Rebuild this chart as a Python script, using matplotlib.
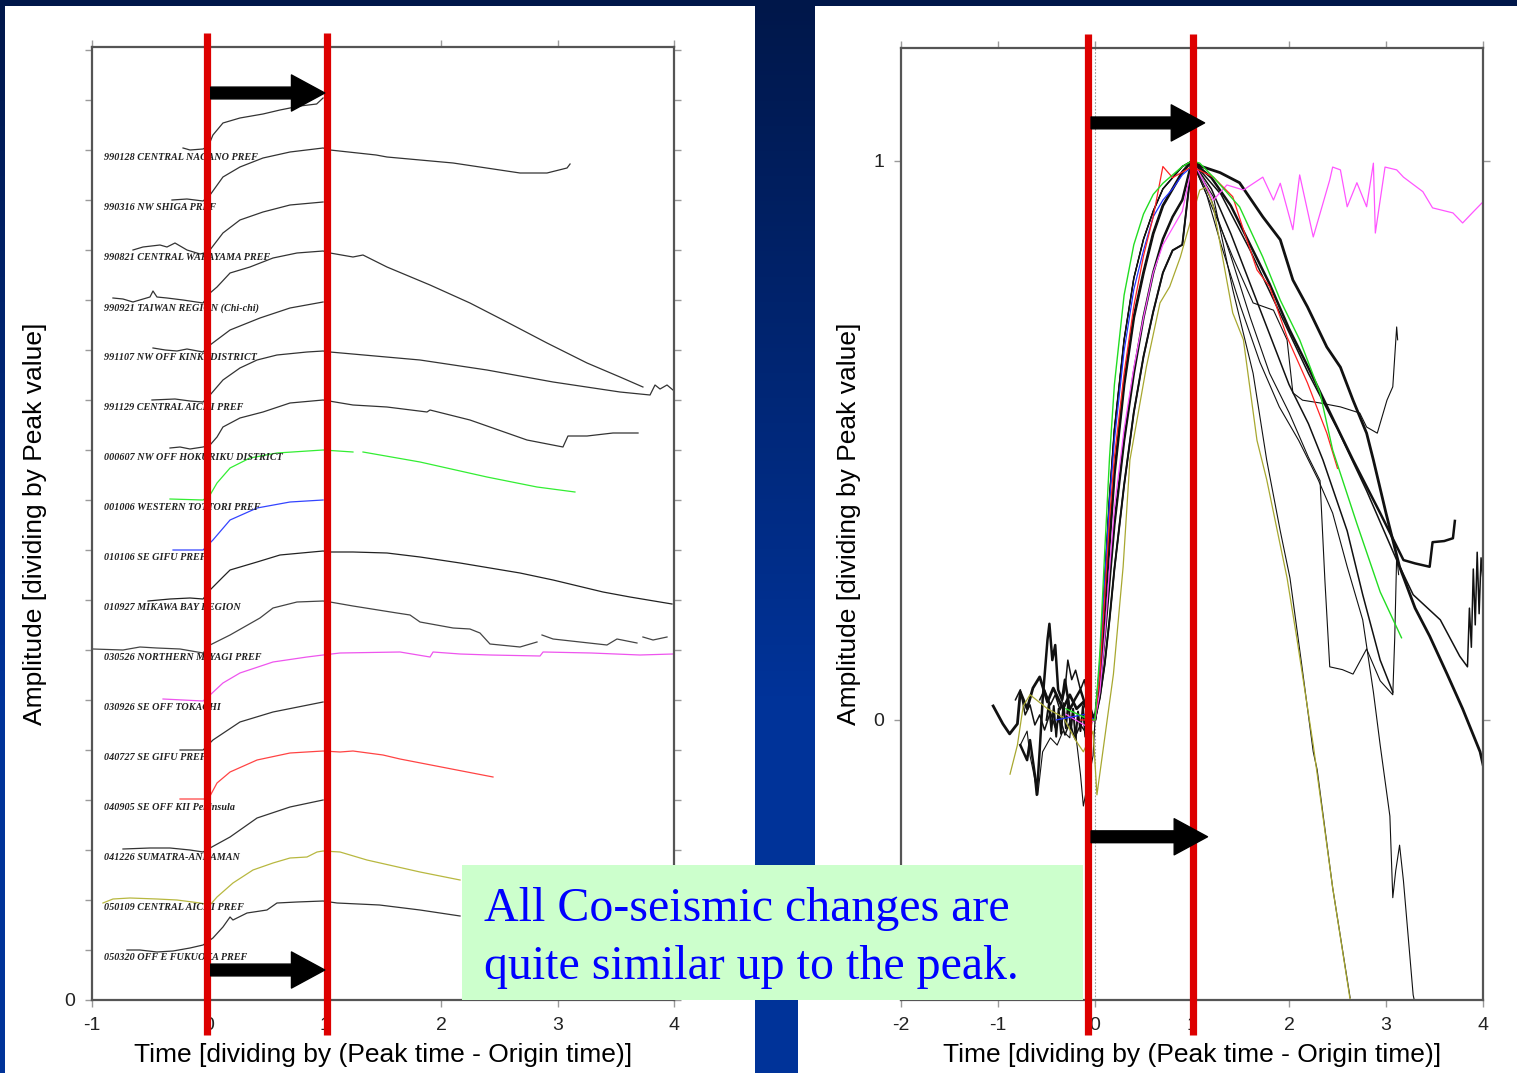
import numpy as np
import matplotlib
matplotlib.use("Agg")
import matplotlib.pyplot as plt
from matplotlib.colors import LinearSegmentedColormap
from matplotlib.patches import Rectangle

plt.rcParams['font.family'] = 'Liberation Sans'
plt.rcParams['axes.unicode_minus'] = False
nan = float('nan')

# ---------------- left panel: stacked records (t / (Tpeak-T0), amplitude / peak)
EVENTS = ["990128 CENTRAL NAGANO PREF", "990316 NW SHIGA PREF", "990821 CENTRAL WAKAYAMA PREF",
          "990921 TAIWAN REGION (Chi-chi)", "991107 NW OFF KINKI DISTRICT", "991129 CENTRAL AICHI PREF",
          "000607 NW OFF HOKURIKU DISTRICT", "001006 WESTERN TOTTORI PREF", "010106 SE GIFU PREF",
          "010927 MIKAWA BAY REGION", "030526 NORTHERN MIYAGI PREF", "030926 SE OFF TOKACHI",
          "040727 SE GIFU PREF", "040905 SE OFF KII Peninsula", "041226 SUMATRA-ANDAMAN",
          "050109 CENTRAL AICHI PREF", "050320 OFF E FUKUOKA PREF"]

L00 = [(-0.218,0.04),(-0.158,0.0),(-0.046,0.02),(0.0,0.08),(0.039,0.3),(0.125,0.54),(0.271,0.64),(0.469,0.72),
       (0.615,0.8),(0.787,0.88),(0.93,0.92),(0.985,1.04)]
L01 = [(-0.313,0.0),(-0.184,0.02),(-0.046,-0.02),(0.014,0.1),(0.125,0.46),(0.271,0.66),(0.469,0.84),(0.701,0.96),
       (0.985,1.04),(1.045,1.0),(1.441,0.9),(1.534,0.86),(2.102,0.74),(2.677,0.54),(2.909,0.54),(3.081,0.64),(3.107,0.72)]
L02 = [(-0.648,0.0),(-0.562,0.06),(-0.416,0.1),(-0.356,0.06),(-0.287,0.14),(-0.184,0.0),(-0.072,-0.08),(0.0,-0.04),
       (0.125,0.34),(0.271,0.6),(0.469,0.76),(0.701,0.9),(0.985,0.96)]
L03 = [(-0.82,0.04),(-0.734,0.02),(-0.648,-0.04),(-0.502,0.06),(-0.476,0.18),(-0.442,0.06),(-0.356,0.04),(-0.218,0.0),
       (-0.046,-0.06),(0.014,0.14),(0.074,0.26),(0.186,0.54),(0.357,0.66),(0.555,0.84),(0.761,0.94),(0.985,0.98),
       (1.045,0.94),(1.242,0.86),(1.328,0.9),(1.534,0.66),(1.904,0.3),(2.247,-0.06),(2.531,-0.4),(2.909,-0.86),
       (3.253,-1.26),(3.536,-1.54),(3.733,-1.74)]
L04 = [(-0.476,0.04),(-0.37,0.0),(-0.27,-0.02),(-0.184,0.02),(-0.046,-0.04),(0.014,0.1),(0.186,0.4),(0.443,0.64),
       (0.701,0.84),(0.985,0.96)]
L05 = [(-0.485,0.0),(-0.287,0.02),(-0.158,-0.02),(-0.046,-0.04),(0.014,0.1),(0.125,0.4),(0.271,0.64),(0.418,0.8),
       (0.589,0.9),(0.847,0.96),(0.985,0.98),(1.045,0.96),(1.818,0.8),(2.393,0.6),(2.961,0.36),(3.536,0.16),
       (3.794,0.1),(3.837,0.3),(3.88,0.22),(3.94,0.3),(3.991,0.2)]
L06 = [(-0.33,0.04),(-0.244,0.06),(-0.158,0.02),(-0.046,0.06),(0.014,0.1),(0.074,0.26),(0.125,0.46),(0.271,0.64),
       (0.469,0.76),(0.701,0.94),(0.985,1.0),(1.242,0.9),(1.534,0.86),(1.878,0.76),(1.904,0.8),(2.247,0.6),
       (2.737,0.2),(3.046,0.06),(3.089,0.28),(3.253,0.28),(3.476,0.34),(3.691,0.34)]
L07 = [(-0.33,0.02),(-0.046,0.0),(0.014,0.1),(0.074,0.34),(0.186,0.64),(0.357,0.84),(0.589,0.94),(0.985,1.0),
       (1.242,0.96),(nan,nan),(1.328,0.96),(1.818,0.76),(2.393,0.46),(2.823,0.26),(3.149,0.16)]
L08 = [(-0.304,0.0),(-0.046,0.0),(0.039,0.2),(0.186,0.6),(0.418,0.84),(0.701,0.96),(0.985,1.0)]
L09 = [(-0.519,-0.02),(-0.33,0.02),(-0.158,0.04),(-0.046,0.02),(0.014,0.2),(0.125,0.46),(0.186,0.6),(0.418,0.76),
       (0.615,0.9),(0.985,0.98),(1.045,0.96),(1.242,0.96),(1.534,0.94),(1.818,0.86),(2.162,0.74),(2.677,0.54),
       (2.961,0.4),(3.39,0.16),(3.622,0.06),(3.983,-0.08)]
L10 = [(-0.991,0.02),(-0.734,0.0),(-0.588,0.06),(-0.442,0.04),(-0.244,0.02),(-0.046,-0.06),(0.014,0.1),(0.186,0.3),
       (0.443,0.64),(0.555,0.84),(0.761,0.96),(0.985,0.98),(1.045,0.96),(1.242,0.88),(1.62,0.74),(1.732,0.7),
       (1.818,0.56),(2.102,0.44),(2.247,0.42),(2.333,0.34),(2.419,0.12),(2.677,0.06),(2.823,0.16),(nan,nan),
       (2.866,0.3),(2.961,0.22),(3.424,0.1),(3.51,0.22),(3.682,0.14),(nan,nan),(3.733,0.26),(3.82,0.2),(3.94,0.26)]
L11 = [(-0.39,0.02),(-0.046,-0.02),(0.014,0.1),(0.125,0.34),(0.271,0.54),(0.555,0.76),(0.847,0.86),(0.985,0.9),
       (1.131,0.94),(1.646,0.96),(1.904,0.86),(1.93,0.96),(2.162,0.92),(2.419,0.9),(2.849,0.88),(2.875,0.96),
       (3.29,0.94),(3.707,0.9),(3.991,0.92)]
L12 = [(-0.244,0.0),(-0.046,0.0),(0.039,0.2),(0.271,0.56),(0.555,0.76),(0.985,0.96)]
L13 = [(-0.244,0.02),(0.0,0.02),(0.074,0.34),(0.186,0.56),(0.418,0.8),(0.701,0.94),(0.985,0.98),(1.131,0.96),
       (1.242,0.98),(1.5,0.9),(1.646,0.82),(2.445,0.46)]
L14 = [(-0.734,0.02),(-0.502,0.04),(-0.33,0.04),(-0.158,0.0),(-0.046,-0.04),(0.014,0.04),(0.186,0.26),(0.418,0.64),
       (0.701,0.86),(0.985,1.0)]
L15 = [(-0.906,-0.06),(-0.82,0.02),(-0.674,0.04),(-0.442,0.02),(-0.27,0.0),(-0.072,-0.06),(0.014,-0.1),(0.074,0.06),
       (0.211,0.34),(0.383,0.6),(0.555,0.74),(0.701,0.84),(0.847,0.86),(0.933,0.96),(0.985,0.98),(1.131,0.96),
       (1.362,0.8),(1.818,0.56),(2.162,0.4)]
L16 = [(-0.7,0.0),(-0.588,0.0),(-0.442,-0.04),(-0.304,-0.02),(-0.158,0.04),(-0.046,0.1),(0.039,0.24),(0.125,0.46),
       (0.186,0.66),(0.211,0.6),(0.332,0.74),(0.503,0.8),(0.589,0.94),(0.761,0.96),(0.985,0.98),(1.105,0.94),
       (1.47,0.9),(1.818,0.8),(2.162,0.68)]
LEFT = [L00, L01, L02, L03, L04, L05, L06, L07, L08, L09, L10, L11, L12, L13, L14, L15, L16]
LEFT_COL = ['#333333']*7 + ['#33ee33', '#3344ff', '#222222', '#444444', '#ee55ee', '#333333',
                            '#ff4444', '#333333', '#b8b840', '#333333']

# ---------------- right panel: all records overlaid
RISE_T = [0, 0.05, 0.1, 0.15, 0.2, 0.3, 0.4, 0.5, 0.6, 0.7, 0.8, 0.9, 1.0]
RISE_A = [0, 0.1, 0.25, 0.4, 0.52, 0.68, 0.79, 0.86, 0.91, 0.95, 0.97, 0.99, 1.0]
RISE_B = [0, 0.08, 0.2, 0.32, 0.44, 0.6, 0.72, 0.8, 0.87, 0.92, 0.95, 0.98, 1.0]
RISE_C = [0, 0.06, 0.15, 0.25, 0.35, 0.5, 0.62, 0.72, 0.8, 0.86, 0.9, 0.93, 1.0]
RISE_D = [0, 0.04, 0.1, 0.18, 0.27, 0.42, 0.55, 0.65, 0.73, 0.8, 0.84, 0.85, 1.0]
RISE_GREEN = [0, 0.12, 0.3, 0.47, 0.6, 0.76, 0.85, 0.905, 0.94, 0.96, 0.975, 0.99, 1.0]
RISE_BLUE = [0, 0.1, 0.25, 0.39, 0.5, 0.66, 0.77, 0.84, 0.9, 0.93, 0.95, 0.975, 0.99]
RISE_RED = [0, 0.08, 0.22, 0.36, 0.47, 0.62, 0.74, 0.83, 0.9, 0.99, 0.97, 0.98, 0.99]
RISE_MAG = [0, 0.05, 0.15, 0.27, 0.38, 0.52, 0.63, 0.72, 0.8, 0.85, 0.88, 0.91, 0.99]

PRE_A = [(-1.05,0.025),(-0.95,-0.007),(-0.88,-0.025),(-0.8,-0.007),(-0.77,0.05),(-0.7,0.02),(-0.64,0.057),
         (-0.57,0.077),(-0.49,0.032),(-0.43,0.057),(-0.33,0.02),(-0.26,0.045),(-0.19,0.02),(-0.12,0.032),(-0.05,0.005)]
PRE_B = [(-0.77,-0.045),(-0.7,-0.072),(-0.67,-0.036),(-0.62,-0.098),(-0.6,-0.134),(-0.57,-0.054),(-0.54,0.036),
         (-0.49,0.143),(-0.47,0.172),(-0.44,0.107),(-0.41,0.134),(-0.38,0.054),(-0.34,0.036),(-0.31,0.072),
         (-0.26,0.018),(-0.21,0.036),(-0.15,0.054),(-0.1,0.027),(-0.05,0.009)]
PRE_C = [(-0.77,-0.045),(-0.7,-0.02),(-0.67,-0.064),(-0.64,-0.089),(-0.59,-0.134),(-0.54,-0.057),(-0.46,-0.032),
         (-0.39,-0.045),(-0.33,-0.02),(-0.26,-0.032),(-0.23,0.02),(-0.15,-0.097),(-0.12,-0.154),(-0.07,-0.109),
         (-0.02,-0.064)]
PRE_D = [(-0.57,0.036),(-0.52,0.054),(-0.46,0.027),(-0.41,0.045),(-0.36,0.018),(-0.31,0.054),(-0.28,0.107),
         (-0.24,0.072),(-0.2,0.089),(-0.15,0.054),(-0.11,0.072),(-0.07,0.036),(-0.02,0.009)]
PRE_E = [(-0.82,0.036),(-0.77,0.054),(-0.72,0.009),(-0.67,0.027),(-0.62,-0.009),(-0.57,0.009),(-0.52,-0.018),
         (-0.46,0.014),(-0.41,-0.014),(-0.36,0.004),(-0.31,-0.027),(-0.26,-0.004),(-0.21,-0.032),(-0.15,-0.009),
         (-0.1,-0.021),(-0.05,-0.004)]
PRE_F = [(-0.5,0.0),(-0.475,0.03),(-0.45,-0.02),(-0.425,0.025),(-0.4,-0.03),(-0.375,0.02),(-0.35,-0.025),
         (-0.325,0.03),(-0.3,-0.015),(-0.275,0.035),(-0.25,-0.02),(-0.225,0.02),(-0.2,-0.035),(-0.175,0.015),
         (-0.15,-0.02),(-0.125,0.025),(-0.1,-0.03),(-0.075,0.01),(-0.05,-0.02),(-0.025,0.01)]

DEC_1 = [(1.1,0.99),(1.29,0.979),(1.49,0.961),(1.73,0.9),(1.91,0.859),(2.04,0.787),(2.19,0.739),(2.39,0.667),
         (2.53,0.631),(2.66,0.572),(2.8,0.513),(2.87,0.465),(3.0,0.37),(3.14,0.274),(3.3,0.2),(3.45,0.15),
         (3.63,0.082),(3.79,0.02),(3.97,-0.057),(4.0,-0.08)]
DEC_2 = [(1.2,0.97),(1.4,0.92),(1.6,0.85),(1.8,0.78),(2.0,0.7),(2.2,0.63),(2.45,0.54),(2.66,0.465),(2.94,0.37),
         (3.18,0.286),(3.3,0.28),(3.45,0.274),(3.48,0.318),(3.6,0.32),(3.69,0.325),(3.71,0.356)]
DEC_3 = [(1.2,0.95),(1.4,0.87),(1.6,0.78),(1.8,0.69),(2.0,0.6),(2.2,0.53),(2.35,0.465),(2.6,0.338),(2.76,0.224),
         (2.94,0.107),(3.07,0.05)]
DEC_4 = [(1.3,0.94),(1.6,0.84),(1.9,0.73),(2.2,0.62),(2.5,0.52),(2.8,0.41),(3.11,0.286),(3.28,0.224),(3.56,0.179),
         (3.76,0.114),(3.84,0.095),(3.86,0.2),(3.88,0.13),(3.9,0.27),(3.92,0.17),(3.94,0.3),(3.96,0.19),
         (3.98,0.29),(4.0,0.25)]
DEC_5 = [(1.1,0.96),(1.25,0.9),(1.42,0.828),(1.63,0.746),(1.84,0.733),(1.98,0.68),(2.04,0.585),(2.14,0.572),
         (2.32,0.567),(2.53,0.56),(2.73,0.549),(2.8,0.524),(2.91,0.513),(3.01,0.572),(3.07,0.596),(3.11,0.703),
         (3.12,0.68)]
DEC_6 = [(1.2,0.93),(1.4,0.83),(1.6,0.72),(1.8,0.62),(2.0,0.55),(2.2,0.47),(2.32,0.428),(2.37,0.25),(2.42,0.095),
         (2.55,0.09),(2.66,0.082),(2.8,0.127),(2.94,0.07),(3.07,0.045),(3.09,0.147),(3.11,0.293),(3.13,0.26)]
DEC_7 = [(1.15,0.94),(1.3,0.85),(1.5,0.74),(1.7,0.64),(1.9,0.56),(2.1,0.5),(2.3,0.43),(2.45,0.37),(2.6,0.274),
         (2.76,0.179),(2.87,0.05),(2.94,-0.045),(3.04,-0.172),(3.07,-0.318),(3.1,-0.27),(3.14,-0.224),
         (3.18,-0.288),(3.28,-0.492),(3.29,-0.5)]
DEC_8 = [(1.1,0.97),(1.22,0.936),(1.42,0.77),(1.63,0.62),(1.77,0.465),(1.91,0.338),(2.01,0.254),(2.13,0.1),
         (2.25,-0.057),(2.29,-0.089),(2.45,-0.3),(2.63,-0.497)]
BLACK = [(PRE_A, RISE_B, DEC_1), (PRE_B, RISE_C, DEC_2), (PRE_D, RISE_A, DEC_3), (PRE_E, RISE_D, DEC_4),
         ([], RISE_B, DEC_5), ([], RISE_A, DEC_6), (PRE_C, RISE_C, DEC_7), ([], RISE_A, DEC_8),
         (PRE_F, RISE_D, []), ([], RISE_B, [])]
BLACK_LW = [2.0, 1.8, 1.1, 1.1, 0.8, 0.8, 0.8, 0.8, 1.4, 1.0]

YELLOW = [(-0.876,-0.097),(-0.8,-0.045),(-0.74,0.025),(-0.67,0.045),(-0.49,0.02),(-0.33,0.005),(-0.19,-0.039),
          (-0.12,-0.057),(-0.02,-0.02),(0.02,-0.134),(0.19,0.082),(0.29,0.274),(0.36,0.465),(0.53,0.632),
          (0.67,0.746),(0.77,0.775),(0.88,0.828),(0.95,0.871),(1.08,0.948),(1.15,0.953),(1.22,0.918),(1.42,0.728),
          (1.53,0.68),(1.67,0.5),(1.77,0.43),(1.98,0.254),(2.08,0.147),(2.25,-0.045),(2.45,-0.3),(2.63,-0.5)]
DEC_GREEN = [(1.08,0.996),(1.22,0.971),(1.49,0.918),(1.73,0.828),(1.91,0.751),(2.11,0.68),(2.32,0.585),
             (2.45,0.483),(2.7,0.351),(2.94,0.229),(3.16,0.147)]
DEC_RED = [(1.22,0.971),(1.42,0.936),(1.53,0.877),(1.67,0.805),(1.8,0.775),(1.98,0.685),(2.19,0.603),
           (2.39,0.513),(2.5,0.45)]
DEC_MAG = [(1.03,0.993),(1.22,0.93),(1.36,0.957),(1.53,0.948),(1.73,0.971),(1.84,0.93),(1.91,0.96),(2.04,0.877),
           (2.11,0.975),(2.25,0.864),(2.42,0.966),(2.45,0.989),(2.53,0.984),(2.6,0.918),(2.7,0.961),(2.8,0.918),
           (2.87,0.996),(2.89,0.871),(2.99,0.989),(3.11,0.984),(3.18,0.971),(3.38,0.945),(3.48,0.916),
           (3.69,0.907),(3.79,0.889),(3.9,0.909),(3.99,0.925)]


def xy(pts):
    a = np.array(pts, dtype=float).reshape(-1, 2)
    return a[:, 0], a[:, 1]


def trace(pre, rise, dec):
    return list(pre) + list(zip(RISE_T, rise)) + list(dec)


W, H = 1517, 1073
fig = plt.figure(figsize=(W / 100, H / 100), dpi=100)

def px_axes(x0, y0, x1, y1):
    return fig.add_axes([x0 / W, 1 - y1 / H, (x1 - x0) / W, (y1 - y0) / H])

# slide background
bg = px_axes(0, 0, W, H)
bg.set_xlim(0, W); bg.set_ylim(H, 0); bg.axis('off')
cm = LinearSegmentedColormap.from_list('slide', [(0, '#00174a'), (0.65, '#003399'), (1, '#003399')])
bg.imshow(np.linspace(0, 1, 256).reshape(-1, 1), extent=[0, W, H, 0], aspect='auto', cmap=cm)
for r in [(5, 6, 750, H), (815, 6, W - 815, H), (798, 1000, 20, 73)]:
    bg.add_patch(Rectangle((r[0], r[1]), r[2], r[3], facecolor='white', edgecolor='none'))

def style(ax):
    for s in ax.spines.values():
        s.set_color('#555555'); s.set_linewidth(1.6)
    ax.tick_params(direction='out', length=5, width=1, color='#9a9a9a', top=True, right=True,
                   labelsize=14, labelcolor='#222222', pad=7)
    ax.set_facecolor('white')

LABEL = 'Time [dividing by (Peak time - Origin time)]'
YLABEL = 'Amplitude [dividing by Peak value]'

# ---- left
ax1 = px_axes(92, 47, 674, 1000)
style(ax1)
ax1.set_xlim(-1, 4); ax1.set_ylim(0, 19.06)
ax1.set_xticks(range(-1, 5))
ax1.set_yticks(range(0, 20)); ax1.set_yticklabels(['0'] + [''] * 19)
for k, (pts, c) in enumerate(zip(LEFT, LEFT_COL)):
    t, v = xy(pts)
    ax1.plot(t, v + 17 - k, color=c, lw=0.9)
    ax1.text(-0.897, 16.84 - k, EVENTS[k], fontsize=7.3, family='Liberation Serif', weight='bold',
             style='italic', color='#222222', va='center')
ax1.set_xlabel(LABEL, fontsize=19)
ax1.set_ylabel(YLABEL, fontsize=19)
ax1.xaxis.set_label_coords(0.5, -0.045)
ax1.yaxis.set_label_coords(-0.077, 0.5)

# ---- right
ax2 = px_axes(901, 48, 1483, 1000)
style(ax2)
ax2.set_xlim(-2, 4); ax2.set_ylim(-0.501, 1.202)
ax2.set_xticks(range(-2, 5)); ax2.set_yticks([0, 1])
ax2.axvline(0, color='#999999', lw=0.8, ls=(0, (1.5, 1.5)))
for (pre, rise, dec), lw in zip(BLACK, BLACK_LW):
    t, v = xy(trace(pre, rise, dec))
    ax2.plot(t, v, color='#111111', lw=lw)
t, v = xy(YELLOW); ax2.plot(t, v, color='#a8a830', lw=0.9)
t, v = xy(trace([(-0.3, 0.01), (-0.1, -0.01)], RISE_MAG, DEC_MAG)); ax2.plot(t, v, color='#ff55ff', lw=0.9)
t, v = xy(trace([(-0.4, 0.0), (-0.1, 0.01)], RISE_BLUE, [])); ax2.plot(t, v, color='#2233ff', lw=0.9)
t, v = xy(trace([(-0.15, 0.0)], RISE_RED, DEC_RED)); ax2.plot(t, v, color='#ff2222', lw=0.9)
t, v = xy(trace([(-0.3, 0.02), (-0.05, 0.0)], RISE_GREEN, DEC_GREEN)); ax2.plot(t, v, color='#22dd22', lw=1.0)
ax2.set_xlabel(LABEL, fontsize=19)
ax2.set_ylabel(YLABEL, fontsize=19)
ax2.xaxis.set_label_coords(0.5, -0.045)
ax2.yaxis.set_label_coords(-0.069, 0.5)

# ---- slide annotations: red markers, arrows
for ax, (ya, yb), xs in [(ax1, (-0.037, 1.015), (-0.016, 1.019)), (ax2, (-0.037, 1.015), (-0.077, 1.015))]:
    for x in xs:
        ax.axvline(x, ya, yb, color='#dd0000', lw=5.2, clip_on=False, zorder=20, solid_capstyle='butt')

arr = dict(arrowstyle='simple,head_length=2.4,head_width=2.6,tail_width=0.85', color='black',
           shrinkA=0, shrinkB=0, mutation_scale=10)
for ax, x0, x1, y in [(ax1, 0.02, 1.0, 18.14), (ax1, 0.02, 1.0, 0.6),
                      (ax2, -0.04, 1.13, 1.068), (ax2, -0.04, 1.16, -0.209)]:
    ax.annotate('', xy=(x1, y), xytext=(x0, y), arrowprops=arr, zorder=21, annotation_clip=False)

ov = px_axes(0, 0, W, H)
ov.set_xlim(0, W); ov.set_ylim(H, 0); ov.axis('off'); ov.patch.set_alpha(0)
ov.add_patch(Rectangle((462, 865), 621, 135, facecolor='#ccffcc', edgecolor='none'))
ov.text(484, 921, 'All Co-seismic changes are', fontsize=34.5, family='Liberation Serif', color='#0000ff')
ov.text(484, 979, 'quite similar up to the peak.', fontsize=34.5, family='Liberation Serif', color='#0000ff')

fig.savefig('out.png', dpi=100)
